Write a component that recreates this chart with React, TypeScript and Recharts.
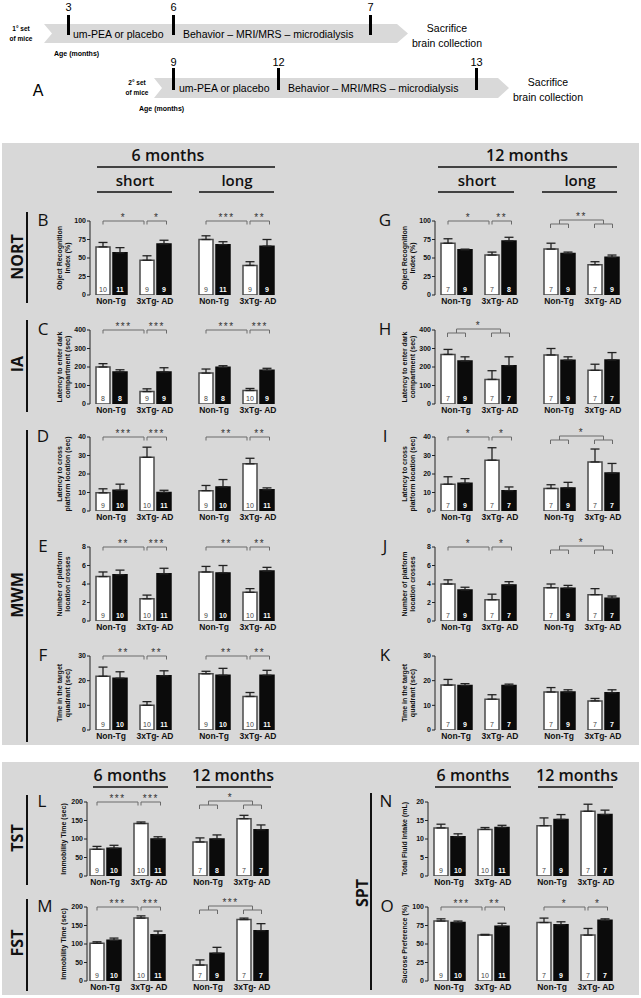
import React from "react";
import { BarChart, Bar, XAxis, YAxis, Cell, ErrorBar, LabelList, ReferenceLine } from "recharts";

const GENOTYPES = ["Non-Tg", "3xTg- AD"];

// 8 bars per panel: Non-Tg placebo, Non-Tg um-PEA, 3xTg placebo, 3xTg um-PEA (first block), then the same for the second block
const B_MEAN = [65, 57, 47, 69, 75, 68, 40, 66];
const B_SEM = [6, 7, 6, 5, 5, 4, 5, 9];
const B_N = [10, 11, 9, 9, 9, 11, 9, 9];

const C_MEAN = [200, 173, 67, 173, 167, 198, 73, 182];
const C_SEM = [18, 12, 15, 23, 22, 9, 11, 11];
const C_N = [8, 8, 9, 9, 8, 8, 10, 9];

const D_MEAN = [9.8, 11.2, 29, 10, 11, 13, 25.5, 11.5];
const D_SEM = [2.2, 3.3, 5.5, 1.2, 2.8, 4, 3, 1];
const E_MEAN = [4.8, 5.0, 2.4, 5.1, 5.3, 5.2, 3.1, 5.4];
const E_SEM = [0.5, 0.5, 0.4, 0.6, 0.6, 0.8, 0.4, 0.4];
const F_MEAN = [21.8, 21, 10, 22, 22.8, 22.2, 13.6, 22.2];
const F_SEM = [3.7, 2.6, 1.5, 2, 1, 2.8, 1.6, 2];
const MWM6_N = [9, 10, 10, 11, 9, 10, 10, 11];

const G_MEAN = [70, 61, 54, 73, 62, 56, 41, 51];
const G_SEM = [6, 1, 4, 5, 8, 2, 4, 3];
const G_N = [7, 9, 7, 8, 7, 9, 7, 9];

const H_MEAN = [268, 232, 133, 207, 265, 237, 182, 238];
const H_SEM = [27, 23, 47, 48, 35, 18, 33, 40];
const I_MEAN = [14.5, 15, 27.5, 11, 12.2, 12.5, 26.5, 20.5];
const I_SEM = [4, 2.5, 6.7, 2, 2, 3, 7, 5.2];
const J_MEAN = [4.0, 3.35, 2.3, 3.9, 3.6, 3.55, 2.85, 2.45];
const J_SEM = [0.45, 0.3, 0.6, 0.35, 0.4, 0.3, 0.65, 0.25];
const K_MEAN = [18.2, 18, 12.5, 18, 15.4, 15.4, 11.8, 15.1];
const K_SEM = [2.3, 0.8, 1.8, 0.6, 1.8, 0.9, 1, 1.2];
const M12_N = [7, 9, 7, 7, 7, 9, 7, 7];

const L_MEAN = [72, 75, 142, 100, 92, 100, 155, 125];
const L_SEM = [8, 8, 4, 6, 11, 11, 9, 13];
const L_N = [9, 10, 10, 11, 7, 8, 7, 7];
const M_MEAN = [102, 110, 170, 125, 43, 75, 166, 136];
const M_SEM = [4, 6, 6, 10, 14, 16, 4, 19];
const N_MEAN = [13, 10.6, 12.6, 13.1, 13.6, 15.3, 17.5, 16.6];
const N_SEM = [1, 0.8, 0.5, 0.6, 2.1, 1.3, 1.9, 1.2];
const O_MEAN = [81, 79, 62, 74, 79, 76, 62, 82];
const O_SEM = [3, 2, 1, 4, 6, 4, 9, 2];
const BOTTOM_N = [9, 10, 10, 11, 7, 9, 7, 7];

const TICKS_PCT = [0, 25, 50, 75, 100];
const TICKS_400 = [0, 100, 200, 300, 400];
const TICKS_40 = [0, 10, 20, 30, 40];
const TICKS_8 = [0, 2, 4, 6, 8];
const TICKS_30 = [0, 10, 20, 30];
const TICKS_200 = [0, 50, 100, 150, 200];
const TICKS_20 = [0, 5, 10, 15, 20];

// significance: s = first block, l = second block, 0 = Non-Tg vs 3xTg, 1 = placebo vs um-PEA, g = grouped
const B_SIG = [["s0", "*"], ["s1", "*"], ["l0", "***"], ["l1", "**"]];
const C_SIG = [["s0", "***"], ["s1", "***"], ["l0", "***"], ["l1", "***"]];
const D_SIG = [["s0", "***"], ["s1", "***"], ["l0", "**"], ["l1", "**"]];
const E_SIG = [["s0", "**"], ["s1", "***"], ["l0", "**"], ["l1", "**"]];
const F_SIG = [["s0", "**"], ["s1", "**"], ["l0", "**"], ["l1", "**"]];
const G_SIG = [["s0", "*"], ["s1", "**"], ["gl", "**"]];
const H_SIG = [["gs", "*"]];
const I_SIG = [["s0", "*"], ["s1", "*"], ["gl", "*"]];
const J_SIG = [["s0", "*"], ["s1", "*"], ["gl", "*"]];
const L_SIG = [["s0", "***"], ["s1", "***"], ["gl", "*"]];
const M_SIG = [["s0", "***"], ["s1", "***"], ["gl", "***"]];
const O_SIG = [["s0", "***"], ["s1", "**"], ["l0", "*"], ["l1", "*"]];

const FONT = '"Liberation Sans", Arial, Helvetica, sans-serif';
const HFONT = '"Open Sans", "DejaVu Sans", sans-serif';

// chart geometry
const YW = 30;
const PW = 190;
const MR = 4;
const MT = 20;
const PH = 74;
const XH = 16;
const PAIRS = [21, 65, 124, 168];
const BAR_OFF = 8.5;

const PANELS = [
  { id: "B", ax: 90, top: 221, mean: B_MEAN, sem: B_SEM, n: B_N, ticks: TICKS_PCT, sig: B_SIG, yl: ["Object Recognition", "Index (%)"] },
  { id: "C", ax: 90, top: 330, mean: C_MEAN, sem: C_SEM, n: C_N, ticks: TICKS_400, sig: C_SIG, yl: ["Latency to enter dark", "compartment (sec)"] },
  { id: "D", ax: 90, top: 437, mean: D_MEAN, sem: D_SEM, n: MWM6_N, ticks: TICKS_40, sig: D_SIG, yl: ["Latency to cross", "platform location (sec)"] },
  { id: "E", ax: 90, top: 547, mean: E_MEAN, sem: E_SEM, n: MWM6_N, ticks: TICKS_8, sig: E_SIG, yl: ["Number of platform", "location crosses"] },
  { id: "F", ax: 90, top: 656, mean: F_MEAN, sem: F_SEM, n: MWM6_N, ticks: TICKS_30, sig: F_SIG, yl: ["Time in the target", "quadrant (sec)"] },
  { id: "G", ax: 435, top: 221, mean: G_MEAN, sem: G_SEM, n: G_N, ticks: TICKS_PCT, sig: G_SIG, yl: ["Object Recognition", "Index (%)"] },
  { id: "H", ax: 435, top: 330, mean: H_MEAN, sem: H_SEM, n: M12_N, ticks: TICKS_400, sig: H_SIG, yl: ["Latency to enter dark", "compartment (sec)"] },
  { id: "I", ax: 435, top: 437, mean: I_MEAN, sem: I_SEM, n: M12_N, ticks: TICKS_40, sig: I_SIG, yl: ["Latency to cross", "platform location (sec)"] },
  { id: "J", ax: 435, top: 547, mean: J_MEAN, sem: J_SEM, n: M12_N, ticks: TICKS_8, sig: J_SIG, yl: ["Number of platform", "location crosses"] },
  { id: "K", ax: 435, top: 656, mean: K_MEAN, sem: K_SEM, n: M12_N, ticks: TICKS_30, sig: [], yl: ["Time in the target", "quadrant (sec)"] },
  { id: "L", ax: 87, top: 802, shift: -3, mean: L_MEAN, sem: L_SEM, n: L_N, ticks: TICKS_200, sig: L_SIG, yl: ["Immobility Time (sec)"] },
  { id: "M", ax: 87, top: 907, shift: -3, mean: M_MEAN, sem: M_SEM, n: BOTTOM_N, ticks: TICKS_200, sig: M_SIG, yl: ["Immobility Time (sec)"] },
  { id: "N", ax: 428, top: 802, mean: N_MEAN, sem: N_SEM, n: BOTTOM_N, ticks: TICKS_20, sig: [], yl: ["Total Fluid Intake (mL)"] },
  { id: "O", ax: 428, top: 907, mean: O_MEAN, sem: O_SEM, n: BOTTOM_N, ticks: TICKS_PCT, sig: O_SIG, yl: ["Sucrose Preference (%)"] },
];

// x of the panel letters
const LETTER_X: Record<string, number> = { B: 43, C: 43, D: 43, E: 43, F: 43, G: 385, H: 385, I: 385, J: 385, K: 385, L: 42, M: 45, N: 386, O: 387 };

const NLabel = (props: any) => {
  const vb = props.viewBox ?? props;
  if (!vb || vb.x == null) return null;
  const dark = props.index % 2 === 1;
  return (
    <text x={vb.x + vb.width / 2} y={vb.y + vb.height - 3} textAnchor="middle" fontSize={7}
      fill={dark ? "#fff" : "#444"} fontWeight={dark ? 700 : 400} fontFamily={FONT}>
      {props.value}
    </text>
  );
};

const starLabel = (text: string) => (props: any) => {
  const vb = props?.viewBox;
  if (!vb || vb.x == null) return null;
  return (
    <text x={vb.x + (vb.width || 0) / 2} y={vb.y} textAnchor="middle" fontSize={10}
      letterSpacing={1.5} fill="#333" fontFamily={FONT}>
      {text}
    </text>
  );
};

function Panel({ p }: { p: any }) {
  const pairs = PAIRS.map((v) => v + (p.shift || 0));
  const rows = p.mean.map((m: number, i: number) => ({
    x: pairs[Math.floor(i / 2)] + (i % 2 === 0 ? -BAR_OFF : BAR_OFF),
    mean: m,
    err: [0, p.sem[i]],
    n: p.n[i],
  }));
  const max = p.ticks[p.ticks.length - 1];
  const u = max / PH;
  const segs: { a: number[]; b: number[]; stars?: string }[] = [];
  p.sig.forEach(([kind, stars]: string[]) => {
    const base = kind === "gs" || kind[0] === "s" ? 0 : 4;
    const wx = (k: number) => rows[base + k].x;
    if (kind[0] !== "g") {
      const x1 = kind[1] === "0" ? wx(0) + 0.5 : wx(2) + 0.5;
      const x2 = kind[1] === "0" ? wx(2) - 2.5 : wx(3) + 3;
      const y = max;
      const yd = max - 3.5 * u;
      segs.push({ a: [x1, y], b: [x2, y], stars });
      segs.push({ a: [x1, y], b: [x1, yd] });
      segs.push({ a: [x2, y], b: [x2, yd] });
    } else {
      const yt = max + 1 * u;
      const ys = max - 3 * u;
      const ye = max - 7 * u;
      const subs = [[wx(0), wx(1) + 1], [wx(2), wx(3) + 1]];
      const mids = subs.map(([a, b]) => (a + b) / 2);
      segs.push({ a: [mids[0], yt], b: [mids[1], yt], stars });
      mids.forEach((m) => segs.push({ a: [m, yt], b: [m, ys] }));
      subs.forEach(([a, b]) => {
        segs.push({ a: [a, ys], b: [b, ys] });
        segs.push({ a: [a, ys], b: [a, ye] });
        segs.push({ a: [b, ys], b: [b, ye] });
      });
    }
  });

  return (
    <div style={{ position: "absolute", left: p.ax - YW, top: p.top - MT }}>
      <BarChart width={YW + PW + MR} height={MT + PH + XH} data={rows}
        margin={{ top: MT, right: MR, bottom: 0, left: 0 }}>
        <XAxis type="number" dataKey="x" domain={[0, PW]} allowDataOverflow ticks={pairs} interval={0}
          tickFormatter={(_v: any, i: number) => GENOTYPES[i % 2]} axisLine={false} tickLine={false}
          tickSize={2} tickMargin={1} height={XH}
          tick={{ fontSize: 8.5, fontWeight: 700, fill: "#111", fontFamily: FONT }} />
        <YAxis type="number" domain={[0, max]} allowDataOverflow ticks={p.ticks} interval={0} width={YW}
          axisLine={{ stroke: "#222" }} tickLine={{ stroke: "#222" }} tickSize={3} tickMargin={1}
          tick={{ fontSize: 7, fontWeight: 700, fill: "#111", fontFamily: FONT }} />
        <Bar dataKey="mean" barSize={14} isAnimationActive={false}>
          {rows.map((_r: any, i: number) => (
            <Cell key={i} fill={i % 2 ? "#0b0b0b" : "#ffffff"} stroke={i % 2 ? "#0b0b0b" : "#4a4a4a"} strokeWidth={1.5} />
          ))}
          <ErrorBar dataKey="err" width={4.5} stroke="#222" strokeWidth={1.3} direction="y" />
          <LabelList dataKey="n" content={NLabel} />
        </Bar>
        {segs.map((s, i) => (
          <ReferenceLine key={i} segment={[{ x: s.a[0], y: s.a[1] }, { x: s.b[0], y: s.b[1] }]}
            stroke="#6a6a6a" strokeWidth={1} ifOverflow="visible"
            label={s.stars ? starLabel(s.stars) : undefined} />
        ))}
      </BarChart>
    </div>
  );
}

const SECTIONS = [
  { t: "NORT", cx: 17, cy: 257, lx: 27, y1: 212, y2: 303 },
  { t: "IA", cx: 17, cy: 364, lx: 27, y1: 320, y2: 412 },
  { t: "MWM", cx: 17, cy: 595, lx: 27, y1: 430, y2: 742 },
  { t: "TST", cx: 17, cy: 838, lx: 27, y1: 795, y2: 885 },
  { t: "FST", cx: 17, cy: 943, lx: 27, y1: 899, y2: 991 },
  { t: "SPT", cx: 362, cy: 893, lx: 371, y1: 793, y2: 990 },
];

const HEADERS = [
  { t: "6 months", cx: 168, cy: 155, x1: 97, x2: 275, ly: 167, size: 16 },
  { t: "short", cx: 135, cy: 180, x1: 97, x2: 172, ly: 192, size: 15 },
  { t: "long", cx: 237, cy: 180, x1: 199, x2: 274, ly: 192, size: 15 },
  { t: "12 months", cx: 527, cy: 155, x1: 438, x2: 617, ly: 167, size: 16 },
  { t: "short", cx: 477, cy: 180, x1: 438, x2: 514, ly: 192, size: 15 },
  { t: "long", cx: 580, cy: 180, x1: 542, x2: 617, ly: 192, size: 15 },
  { t: "6 months", cx: 130, cy: 775, x1: 93, x2: 168, ly: 787, size: 16 },
  { t: "12 months", cx: 233, cy: 775, x1: 196, x2: 271, ly: 787, size: 16 },
  { t: "6 months", cx: 473, cy: 775, x1: 435, x2: 511, ly: 787, size: 16 },
  { t: "12 months", cx: 577, cy: 775, x1: 538, x2: 613, ly: 787, size: 16 },
];

const TIMELINE = [
  { x0: 44, x1: 397, tip: 408, yt: 24, yb: 43, ticks: [[67, "3"], [172, "6"], [369, "7"]], ty1: 15, ty2: 35, ny: 7,
    set: "1° set", sx: 21, txt1: 73, txt2: 183, sac: 447, age: 54, ageY: 53 },
  { x0: 154, x1: 498, tip: 509, yt: 78, yb: 98, ticks: [[172, "9"], [277, "12"], [475, "13"]], ty1: 68, ty2: 90, ny: 62,
    set: "2° set", sx: 137, txt1: 179, txt2: 288, sac: 548, age: 139, ageY: 108 },
];

function Timeline() {
  return (
    <g fontFamily={FONT}>
      {TIMELINE.map((r, i) => {
        const ym = (r.yt + r.yb) / 2;
        return (
          <g key={i}>
            <polygon fill="#d9d9d9"
              points={`${r.x0},${r.yt} ${r.x1},${r.yt} ${r.tip},${ym} ${r.x1},${r.yb} ${r.x0},${r.yb} ${r.x0 + 8},${ym}`} />
            {r.ticks.map(([x, t]: any) => (
              <g key={t}>
                <rect x={x} y={r.ty1} width={3} height={r.ty2 - r.ty1} fill="#000" />
                <text x={x + 1.5} y={r.ny} textAnchor="middle" dominantBaseline="central" fontSize={11}>{t}</text>
              </g>
            ))}
            <text x={r.sx} y={r.yt + 4} textAnchor="middle" dominantBaseline="central" fontSize={6.5} fontWeight={700}>{r.set}</text>
            <text x={r.sx} y={r.yt + 14} textAnchor="middle" dominantBaseline="central" fontSize={6.5} fontWeight={700}>of mice</text>
            <text x={r.txt1} y={ym} dominantBaseline="central" fontSize={10.5}>um-PEA or placebo</text>
            <text x={r.txt2} y={ym} dominantBaseline="central" fontSize={10.5}>Behavior – MRI/MRS – microdialysis</text>
            <text x={r.sac} y={r.yt + 4} textAnchor="middle" dominantBaseline="central" fontSize={10.5}>Sacrifice</text>
            <text x={r.sac} y={r.yt + 19} textAnchor="middle" dominantBaseline="central" fontSize={10.5}>brain collection</text>
            <text x={r.age} y={r.ageY} dominantBaseline="central" fontSize={7} fontWeight={700}>Age (months)</text>
          </g>
        );
      })}
      <text x={38} y={90} textAnchor="middle" dominantBaseline="central" fontSize={16}>A</text>
    </g>
  );
}

export default function App() {
  return (
    <div style={{ position: "absolute", left: 0, top: 0, width: 641, height: 998, background: "#fff", overflow: "hidden" }}>
      <svg width={641} height={998} style={{ position: "absolute", left: 0, top: 0 }}>
        <rect x={2} y={143} width={637} height={602} fill="#d8d8d8" />
        <rect x={2} y={762} width={637} height={233} fill="#d8d8d8" />
        <Timeline />
        {HEADERS.map((h, i) => (
          <g key={i}>
            <text x={h.cx} y={h.cy} textAnchor="middle" dominantBaseline="central" fontFamily={HFONT}
              fontWeight={600} fontSize={h.size} fill="#111">{h.t}</text>
            <line x1={h.x1} x2={h.x2} y1={h.ly} y2={h.ly} stroke="#111" strokeWidth={1.5} />
          </g>
        ))}
        {SECTIONS.map((s) => (
          <g key={s.t}>
            <text x={s.cx} y={s.cy} transform={`rotate(-90 ${s.cx} ${s.cy})`} textAnchor="middle"
              dominantBaseline="central" fontFamily={HFONT} fontWeight={700} fontSize={16} fill="#111">{s.t}</text>
            <line x1={s.lx} x2={s.lx} y1={s.y1} y2={s.y2} stroke="#111" strokeWidth={2} />
          </g>
        ))}
        {PANELS.map((p) => {
          const cy = p.top + PH / 2;
          return (
            <g key={p.id}>
              <text x={LETTER_X[p.id]} y={p.top - 2} textAnchor="middle" dominantBaseline="central" fontFamily={HFONT}
                fontSize={17} fill="#111">{p.id}</text>
              {p.yl.map((line, k) => {
                const x = p.yl.length === 1 ? p.ax - 24 : p.ax - 31 + k * 8;
                return (
                  <text key={k} x={x} y={cy} transform={`rotate(-90 ${x} ${cy})`} textAnchor="middle"
                    dominantBaseline="central" fontFamily={FONT} fontWeight={700} fontSize={7} fill="#111">{line}</text>
                );
              })}
            </g>
          );
        })}
      </svg>
      {PANELS.map((p) => (
        <Panel key={p.id} p={p} />
      ))}
    </div>
  );
}
